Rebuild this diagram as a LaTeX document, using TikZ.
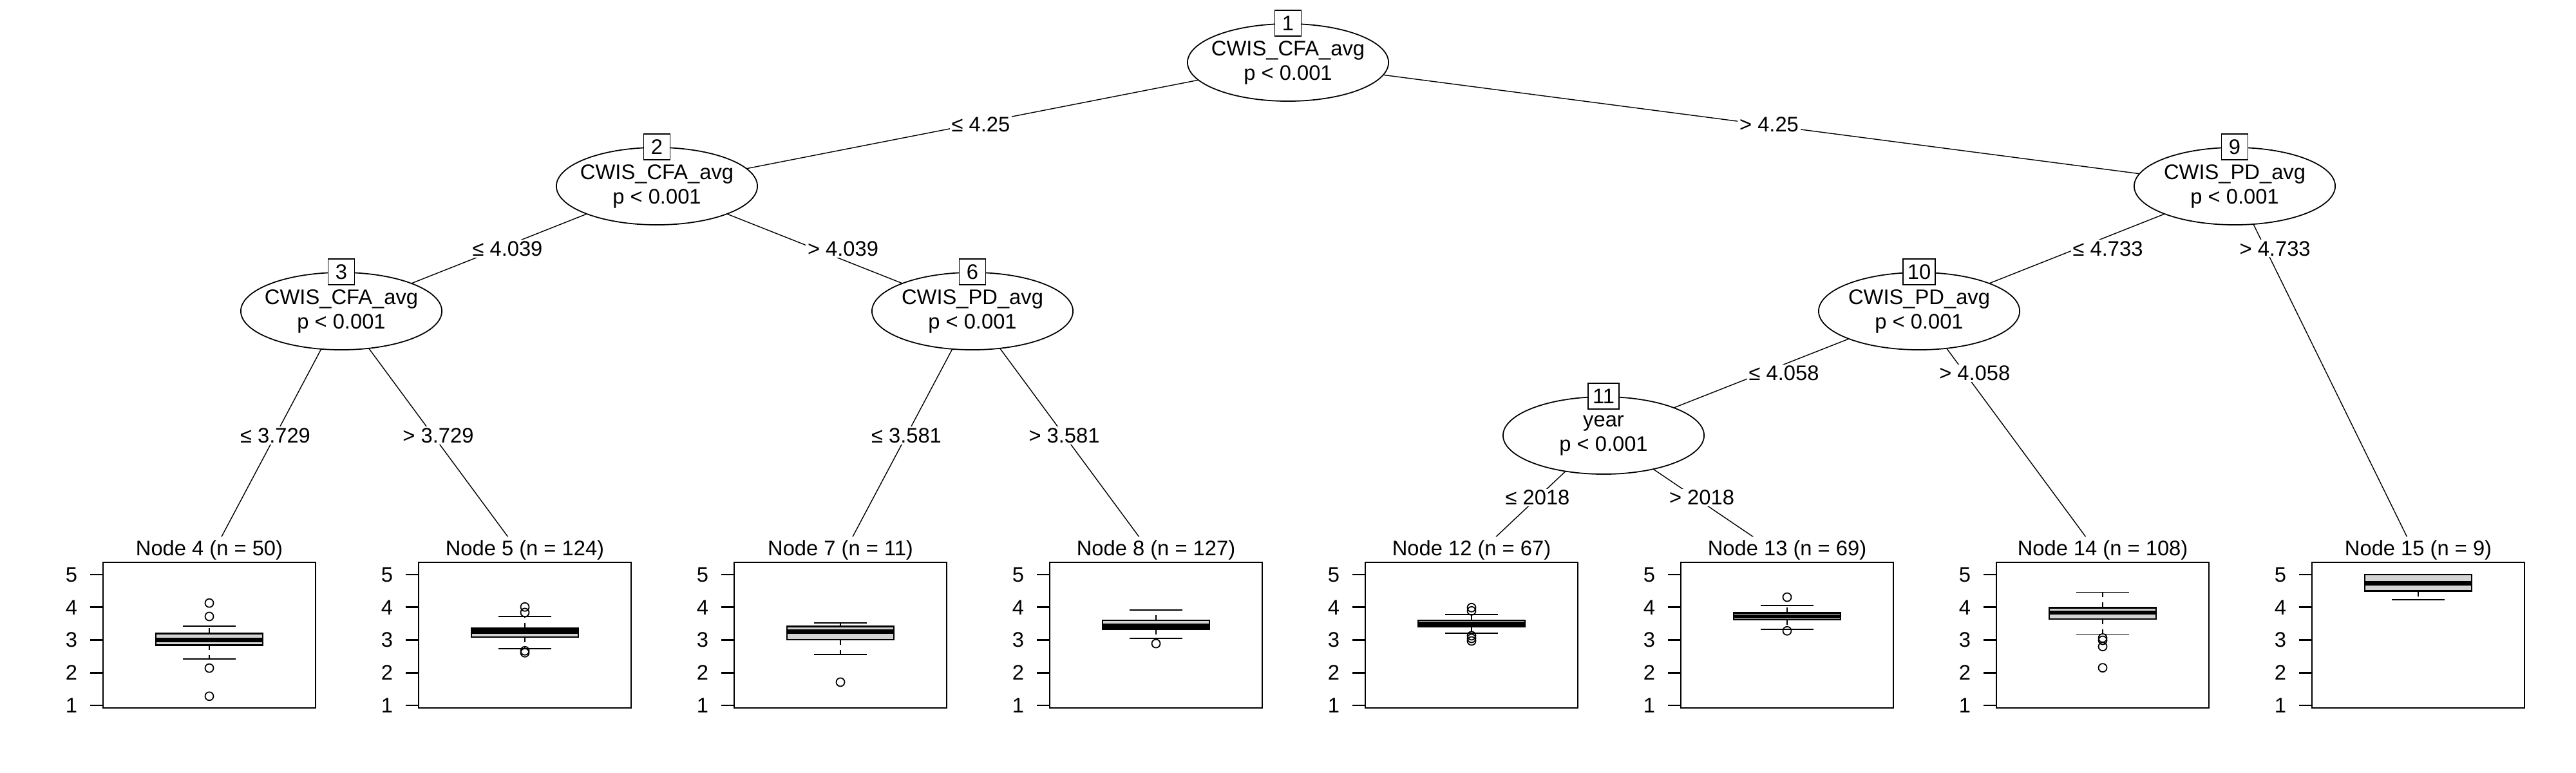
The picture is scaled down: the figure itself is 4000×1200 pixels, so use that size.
\documentclass[tikz,border=0pt]{standalone}
\usepackage{fontspec}
\setmainfont{Liberation Sans}
\usetikzlibrary{shapes.geometric,backgrounds}

\definecolor{boxgray}{RGB}{211,211,211}

\tikzset{
  splitnode/.style={draw, ellipse, fill=white, minimum width=3.12cm, minimum height=1.2cm,
    inner xsep=-0.2cm, inner ysep=0pt, align=center},
  idbox/.style={draw, fill=white, minimum width=0.41cm, minimum height=0.4cm,
    inner xsep=0.07cm, inner ysep=0pt},
  cutlabel/.style={fill=white, inner xsep=0.03cm, inner ysep=0.02cm},
  panelbox/.style={line width=0.8pt},
  whisk/.style={dash pattern=on 2.3pt off 2.3pt},
}

\begin{document}
\begin{tikzpicture}[x=0.01cm, y=-0.01cm, line width=0.5pt,
  font=\fontsize{9.3}{10.8}\selectfont,
  declare function={vy(\v)=1095-50.75*(\v-1);}]
\useasboundingbox (0,0) rectangle (4000,1200);

% Inner nodes
\node[splitnode] (n1) at (2000,97) {CWIS\_CFA\_avg\\p < 0.001};
\node[idbox] (id1) at (n1.north) {1};
\node[splitnode] (n2) at (1020,289) {CWIS\_CFA\_avg\\p < 0.001};
\node[idbox] (id2) at (n2.north) {2};
\node[splitnode] (n3) at (530,483) {CWIS\_CFA\_avg\\p < 0.001};
\node[idbox] (id3) at (n3.north) {3};
\node[splitnode] (n6) at (1510,483) {CWIS\_PD\_avg\\p < 0.001};
\node[idbox] (id6) at (n6.north) {6};
\node[splitnode] (n9) at (3470,289) {CWIS\_PD\_avg\\p < 0.001};
\node[idbox] (id9) at (n9.north) {9};
\node[splitnode] (n10) at (2980,483) {CWIS\_PD\_avg\\p < 0.001};
\node[idbox] (id10) at (n10.north) {10};
\node[splitnode] (n11) at (2490,676) {year\\p < 0.001};
\node[idbox] (id11) at (n11.north) {11};

% Terminal panels: x / id / n / lower whisker / q1 / median / q3 / upper whisker / outliers
\foreach \cx/\id/\n/\lo/\qa/\md/\qb/\hi/\outs in {
  325/4/50/2.42/2.85/3.0/3.20/3.42/{4.13,3.72,2.14,1.28},
  815/5/124/2.73/3.09/3.25/3.36/3.72/{4.01,3.84,2.67,2.61},
  1305/7/11/2.56/3.01/3.25/3.42/3.52/{1.71},
  1795/8/127/3.05/3.33/3.44/3.60/3.91/{2.89},
  2285/12/67/3.20/3.42/3.50/3.60/3.78/{3.99,3.89,3.13,3.05,2.97},
  2775/13/69/3.33/3.62/3.72/3.83/4.05/{4.31,3.28},
  3265/14/108/3.18/3.64/3.84/3.99/4.46/{3.06,2.99,2.8,2.15},
  3755/15/9/4.23/4.49/4.74/5.0/5.0/{}} {
  \coordinate (leaf\id) at (\cx,869);
  \fill[white] (\cx-245,833) rectangle (\cx+245,1115);
  \node (title\id) at (\cx,854) {Node \id{} (n = \n)};
  \draw[panelbox] (\cx-165,873) rectangle (\cx+165,1099);
  \foreach \v in {1,...,5} {
    \draw[panelbox] (\cx-165,{vy(\v)}) -- (\cx-185,{vy(\v)});
    \node[anchor=east, inner sep=0pt] (tick\id-\v) at (\cx-204,{vy(\v)}) {\v};
  }
  % whiskers
  \draw[whisk] (\cx,{vy(\qb)}) -- (\cx,{vy(\hi)});
  \draw[whisk] (\cx,{vy(\qa)}) -- (\cx,{vy(\lo)});
  \draw (\cx-41,{vy(\hi)}) -- (\cx+41,{vy(\hi)});
  \draw (\cx-41,{vy(\lo)}) -- (\cx+41,{vy(\lo)});
  % box and median
  \draw[fill=boxgray, line width=0.8pt] (\cx-83,{vy(\qa)}) rectangle (\cx+83,{vy(\qb)});
  \draw[line width=1.9pt] (\cx-83,{vy(\md)}) -- (\cx+83,{vy(\md)});
  \foreach \o in \outs {
    \draw (\cx,{vy(\o)}) circle[radius=6.5];
  }
}

% Edges with split labels
\begin{scope}[on background layer]
\draw (n1.center) -- node[cutlabel, xshift=0.13cm] (c2) {≤ 4.25} (n2.center);
\draw (n1.center) -- node[cutlabel, xshift=0.12cm] (c9) {> 4.25} (n9.center);
\draw (n2.center) -- node[cutlabel, xshift=0.13cm] (c3) {≤ 4.039} (n3.center);
\draw (n2.center) -- node[cutlabel, xshift=0.44cm] (c6) {> 4.039} (n6.center);
\draw (n3.center) -- node[cutlabel] (c4) {≤ 3.729} (leaf4);
\draw (n3.center) -- node[cutlabel, xshift=0.08cm] (c5) {> 3.729} (leaf5);
\draw (n6.center) -- node[cutlabel] (c7) {≤ 3.581} (leaf7);
\draw (n6.center) -- node[cutlabel] (c8) {> 3.581} (leaf8);
\draw (n9.center) -- node[cutlabel, xshift=0.48cm] (c10) {≤ 4.733} (n10.center);
\draw (n9.center) -- node[cutlabel, pos=0.167, xshift=0.15cm] (c15) {> 4.733} (leaf15);
\draw (n10.center) -- node[cutlabel, xshift=0.35cm] (c11) {≤ 4.058} (n11.center);
\draw (n10.center) -- node[cutlabel, pos=0.25, xshift=0.15cm] (c14) {> 4.058} (leaf14);
\draw (n11.center) -- node[cutlabel] (c12) {≤ 2018} (leaf12);
\draw (n11.center) -- node[cutlabel, xshift=0.1cm] (c13) {> 2018} (leaf13);
\end{scope}
\end{tikzpicture}
\end{document}
